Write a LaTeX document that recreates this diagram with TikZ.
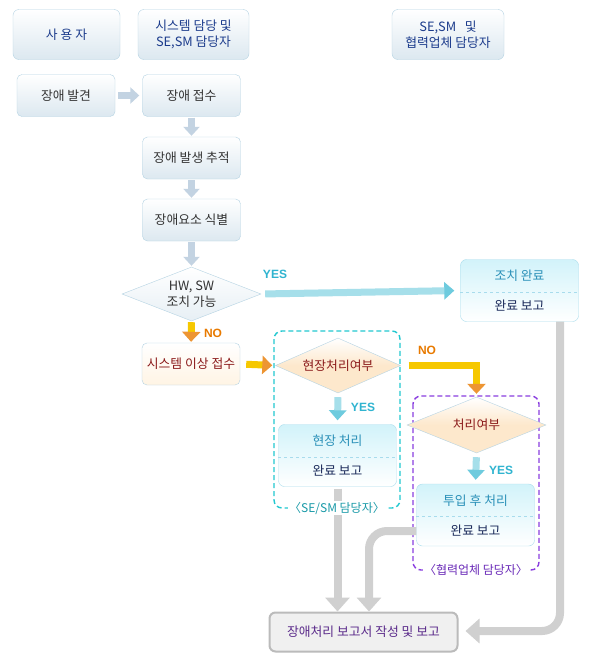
\documentclass[tikz,border=0pt]{standalone}
\usepackage{fontspec}
\setmainfont{Noto Sans CJK KR}
\newfontfamily\latf{Liberation Sans}
\usetikzlibrary{arrows.meta,shapes.geometric,calc}
\definecolor{hdrtext}{HTML}{1C3C8C}
\definecolor{bordblue}{HTML}{B5D3E3}
\definecolor{boxbot}{HTML}{DCE8F0}
\definecolor{boxtext}{HTML}{333333}
\definecolor{cyanbord}{HTML}{A8DCEC}
\definecolor{cyantop}{HTML}{D2F3FA}
\definecolor{cyantext}{HTML}{2A90B8}
\definecolor{navytext}{HTML}{1A2A5A}
\definecolor{yescol}{HTML}{30B4D0}
\definecolor{nocol}{HTML}{E87A00}
\definecolor{redtext}{HTML}{8B1A1A}
\definecolor{cream}{HTML}{FDE8CC}
\definecolor{creambox}{HTML}{FFF4E4}
\definecolor{dashcyan}{HTML}{22C8D0}
\definecolor{dashpurple}{HTML}{8A3EE0}
\definecolor{labcyan}{HTML}{1A9AA8}
\definecolor{labpurple}{HTML}{6A2AB8}
\definecolor{arrowgray}{HTML}{D0D0D0}
\definecolor{arrowblue}{HTML}{C3D3E2}
\definecolor{yellowarr}{HTML}{F6C800}
\definecolor{yesarr}{HTML}{A6DFEA}
\definecolor{reptext}{HTML}{5A2A8A}
\begin{document}
\begin{tikzpicture}[x=1pt,y=-1pt,
  txt/.style={font=\fontsize{12.8}{15.5}\selectfont},
  hdr/.style={txt,draw=bordblue,rounded corners=6,top color=white,bottom color=boxbot,
    minimum width=108,minimum height=50,text=hdrtext,align=center,inner sep=0},
  stepbox/.style={txt,draw=bordblue,rounded corners=5,top color=white,bottom color=boxbot,
    minimum width=98,minimum height=42,text=boxtext,inner sep=0},
  twobox/.style={draw=cyanbord,rounded corners=6,top color=cyantop,bottom color=white,
    minimum width=118,minimum height=62,inner sep=0},
  toptxt/.style={txt,text=cyantext},
  bottxt/.style={txt,text=navytext},
  dia/.style={txt,diamond,draw=bordblue,aspect=2.55,inner sep=0,align=center},
  dashbox/.style={rounded corners=8,line width=1.4,dash pattern=on 5pt off 3pt},
  sarrow/.style={draw=arrowblue,line width=7,-{Triangle[width=16,length=9]}},
  yarrow/.style={draw=yellowarr,line width=7,-{Triangle[width=18,length=10,color=nocol!80]}},
  carrow/.style={draw=yesarr,line width=7,-{Triangle[width=17,length=10,color=yescol!70]}},
  garrow/.style={draw=arrowgray,line width=8,-{Triangle[width=24,length=14]}},
  grplab/.style={font=\fontsize{12}{14}\selectfont,fill=white,inner sep=1},
  yeslab/.style={font=\latf\bfseries\fontsize{12}{14}\selectfont,text=yescol},
  nolab/.style={font=\latf\bfseries\fontsize{12}{14}\selectfont,text=nocol}
]
\useasboundingbox[fill=white] (0,0) rectangle (591,672);

% headers
\node[hdr,minimum width=107] (h1) at (66.5,34.5) {사 용 자};
\node[hdr,minimum width=111] (h2) at (193.5,34.5) {시스템 담당 및\\SE,SM 담당자};
\node[hdr,minimum width=112] (h3) at (448,34.5) {SE,SM \ \ 및\\협력업체 담당자};

% steps
\node[stepbox] (b1) at (66,95.5) {장애 발견};
\node[stepbox] (b2) at (191.5,95.5) {장애 접수};
\node[stepbox] (b3) at (191.5,158) {장애 발생 추적};
\node[stepbox] (b4) at (191.5,220) {장애요소 식별};
\node[dia,fill=white,top color=white,bottom color=boxbot!70,minimum width=139,minimum height=54,text=boxtext] (d1) at (191.5,294) {HW, SW\\조치 가능};
\node[stepbox,top color=white,bottom color=creambox,text=redtext] (b5) at (191,364) {시스템 이상 접수};

% dashed groups
\draw[dashbox,draw=dashcyan] (274,331) rectangle (400,508);
\draw[dashbox,draw=dashpurple] (413,396) rectangle (539,570);

\node[dia,top color=white,bottom color=cream,middle color=cream,minimum width=125,minimum height=55,text=redtext] (d2) at (338,365.5) {현장처리여부};
\node[dia,top color=white,bottom color=cream,middle color=cream,minimum width=139,minimum height=56,text=redtext] (d3) at (476.5,425) {처리여부};

% two-part boxes
\node[twobox] (c1) at (519.5,290.5) {};
\draw[cyanbord,dashed,line width=0.6] (c1.west |- 0,292) -- (c1.east |- 0,292);
\node[toptxt] (c1t) at (519.5,276) {조치 완료};
\node[bottxt] (c1b) at (519.5,306) {완료 보고};

\node[twobox] (hs) at (337.5,455.5) {};
\draw[cyanbord,dashed,line width=0.6] (hs.west |- 0,457) -- (hs.east |- 0,457);
\node[toptxt] (hst) at (337.5,441) {현장 처리};
\node[bottxt] (hsb) at (337.5,470.5) {완료 보고};

\node[twobox] (tp) at (475.5,515) {};
\draw[cyanbord,dashed,line width=0.6] (tp.west |- 0,516) -- (tp.east |- 0,516);
\node[toptxt] (tpt) at (475.5,501) {투입 후 처리};
\node[bottxt] (tpb) at (475.5,531) {완료 보고};

% report
\node[txt,draw=arrowgray!90!black,line width=2,rounded corners=6,fill=black!6,minimum width=188,minimum height=39,text=reptext,inner sep=0] (rep) at (363.5,632) {장애처리 보고서 작성 및 보고};

% gray report arrows
\draw[garrow,shorten <=2] (hs.south) -- (hs.south |- rep.north);
\draw[garrow,rounded corners=18] (tpb -| tp.west) -- (369,531) -- (369,0 |- rep.north);
\draw[garrow,rounded corners=18,shorten >=7] (c1.south -| 560,0) -- (560,631) -- (rep.east |- 0,631);

% group labels
\node[grplab,text=labcyan] (l1) at (337,508) {〈SE/SM 담당자〉};
\node[grplab,text=labpurple] (l2) at (476,570) {〈협력업체 담당자〉};

% small step arrows
\draw[sarrow,shorten <=3,shorten >=3] (b1.east) -- (b2.west);
\draw[sarrow,shorten <=1,shorten >=1] (b2.south) -- (b3.north);
\draw[sarrow,shorten <=1,shorten >=1] (b3.south) -- (b4.north);
\draw[sarrow,shorten <=1,shorten >=1] (b4.south) -- (d1.north);

% decisions
\draw[yarrow,shorten <=1,shorten >=1] (d1.south) -- (b5.north);
\node[nolab] (no1) at (213,333) {NO};
\draw[carrow,shorten <=4,shorten >=6] (d1.east) -- (c1.west);
\node[yeslab] (yes1) at (275,274) {YES};
\draw[yarrow,shorten <=6,shorten >=3] (b5.east) -- (d2.west);
\draw[yarrow,shorten <=8,shorten >=3] (d2.east) -- (d3.north |- d2.east) -- (d3.north);
\node[nolab] (no2) at (427,350) {NO};
\draw[carrow,shorten <=4,shorten >=4] (d2.south) -- (hs.north);
\node[yeslab] (yes2) at (363,407) {YES};
\draw[carrow,shorten <=4,shorten >=4] (d3.south) -- (tp.north);
\node[yeslab] (yes3) at (501,470) {YES};
\end{tikzpicture}
\end{document}
